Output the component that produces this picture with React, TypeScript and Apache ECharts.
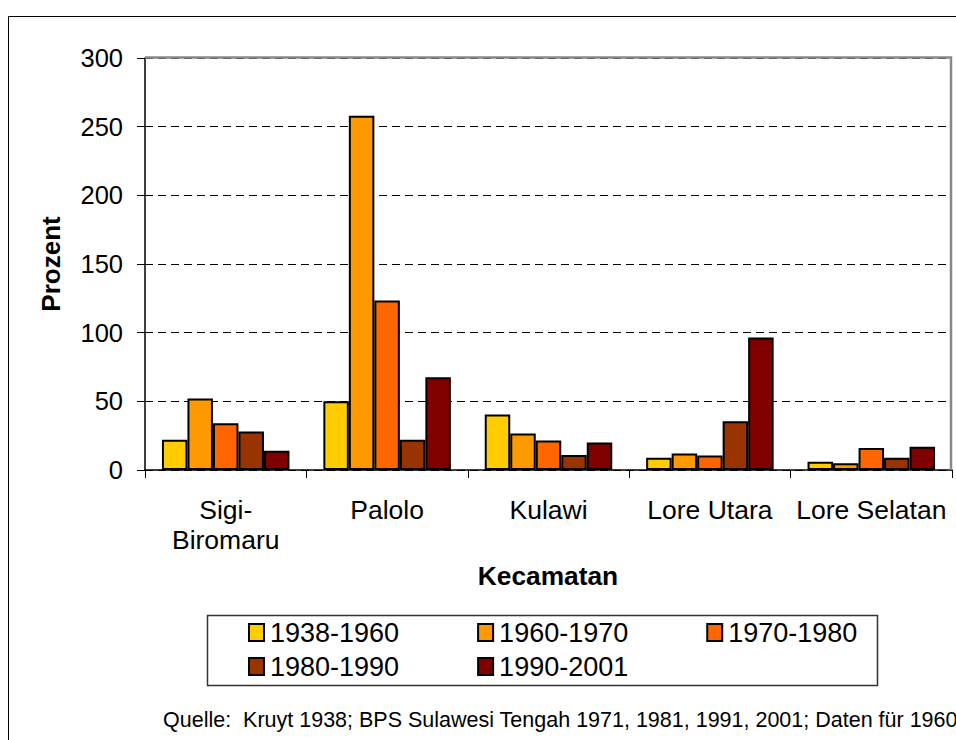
import React, { useEffect, useRef } from "react";
import * as echarts from "echarts";

const categories = ["Sigi-\nBiromaru", "Palolo", "Kulawi", "Lore Utara", "Lore Selatan"];
const seriesNames = ["1938-1960", "1960-1970", "1970-1980", "1980-1990", "1990-2001"];
const v1938_1960 = [22, 50, 40.5, 9, 6];
const v1960_1970 = [52, 258, 26.5, 12, 5];
const v1970_1980 = [34, 123.5, 21.5, 10.5, 16];
const v1980_1990 = [28, 22, 11, 35.5, 9];
const v1990_2001 = [14, 67.5, 20, 96.5, 17];
const seriesValues = [v1938_1960, v1960_1970, v1970_1980, v1980_1990, v1990_2001];
const colors = ["#FFCC00", "#FF9900", "#FF6600", "#993300", "#800000"];
const yMin = 0;
const yMax = 300;
const yStep = 50;
const yTitle = "Prozent";
const xTitle = "Kecamatan";
const sourceText = "Quelle:  Kruyt 1938; BPS Sulawesi Tengah 1971, 1981, 1991, 2001; Daten für 1960";

const FONT = "'Liberation Sans', Arial, sans-serif";

export default function App() {
  const ref = useRef<HTMLDivElement>(null);
  useEffect(() => {
    if (!ref.current) return;
    const chart = echarts.init(ref.current, null, { renderer: "svg" });
    const legendCommon = {
      orient: "horizontal" as const,
      itemWidth: 15,
      itemHeight: 17,
      itemGap: 78,
      padding: 0,
      icon: "rect",
      textStyle: { fontFamily: FONT, fontSize: 27, color: "#000", padding: [0, 0, 0, 1] },
      itemStyle: { borderColor: "#000", borderWidth: 2 },
      selectedMode: false,
    };
    chart.setOption({
      animation: false,
      backgroundColor: "#fff",
      grid: { left: 145, right: 4, top: 58, bottom: 270, containLabel: false },
      legend: [
        { ...legendCommon, data: seriesNames.slice(0, 3), left: 248, top: 619 },
        { ...legendCommon, data: seriesNames.slice(3), left: 248, top: 653 },
      ],
      xAxis: {
        type: "category",
        data: categories,
        axisLine: { lineStyle: { color: "#000", width: 1.5 } },
        axisTick: { show: true, length: 8, lineStyle: { color: "#000" } },
        axisLabel: { fontFamily: FONT, fontSize: 26.5, color: "#000", margin: 25, lineHeight: 30, interval: 0 },
      },
      yAxis: {
        type: "value",
        min: yMin,
        max: yMax,
        interval: yStep,
        axisLine: { show: true, lineStyle: { color: "#000", width: 1.5 } },
        axisTick: { show: true, length: 8, lineStyle: { color: "#000" } },
        axisLabel: { fontFamily: FONT, fontSize: 25.5, color: "#000", margin: 22 },
        splitLine: { show: true, lineStyle: { color: "#000", type: [8, 5], width: 1 } },
      },
      series: seriesNames.map((name, i) => ({
        name,
        type: "bar",
        data: seriesValues[i],
        barGap: "0%",
        barCategoryGap: "21%",
        itemStyle: { color: colors[i], borderColor: "#000", borderWidth: 2 },
      })),
      graphic: [
        {
          type: "rect",
          shape: { x: 8.5, y: 16.5, width: 960, height: 760 },
          style: { fill: "none", stroke: "#000", lineWidth: 1 },
          z: 0,
        },
        {
          type: "polyline",
          shape: { points: [[145, 57.5], [951, 57.5], [951, 470]] },
          style: { fill: "none", stroke: "#888", lineWidth: 2.5 },
          z: 100,
        },
        {
          type: "rect",
          shape: { x: 207.5, y: 615.5, width: 670, height: 70 },
          style: { fill: "none", stroke: "#333", lineWidth: 1.5 },
          z: 1,
        },
        {
          type: "text",
          x: 51,
          y: 264,
          rotation: Math.PI / 2,
          style: {
            text: yTitle,
            font: `bold 26px ${FONT}`,
            fill: "#000",
            align: "center",
            verticalAlign: "middle",
          },
        },
        {
          type: "text",
          x: 548,
          y: 576,
          style: {
            text: xTitle,
            font: `bold 26.3px ${FONT}`,
            fill: "#000",
            align: "center",
            verticalAlign: "middle",
          },
        },
        {
          type: "text",
          x: 163,
          y: 720,
          style: {
            text: sourceText,
            font: `21.5px ${FONT}`,
            fill: "#000",
            align: "left",
            verticalAlign: "middle",
          },
        },
      ],
    });
    return () => chart.dispose();
  }, []);
  return (
    <div
      ref={ref}
      style={{ position: "absolute", left: 0, top: 0, width: 956, height: 740 }}
    />
  );
}
